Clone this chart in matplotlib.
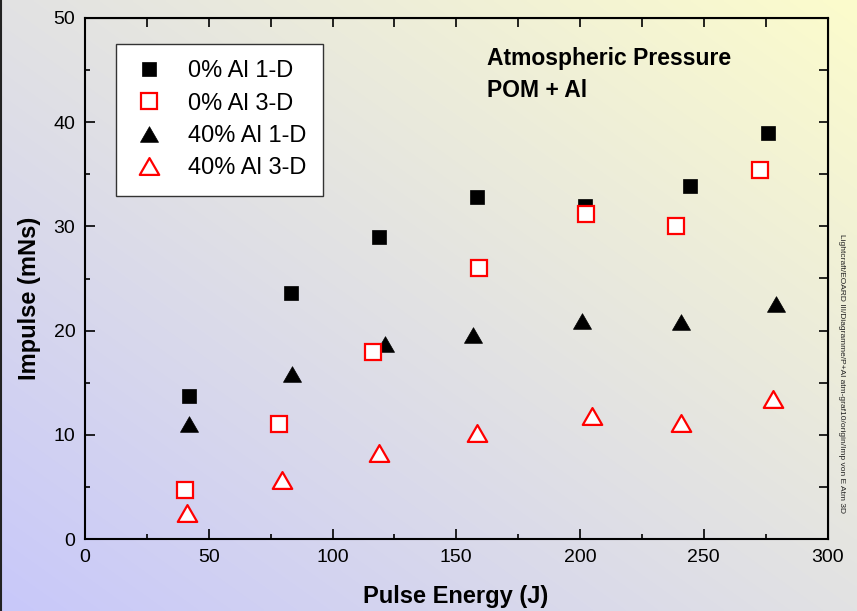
import numpy as np
import matplotlib
matplotlib.use("Agg")
import matplotlib.pyplot as plt
from matplotlib.path import Path
from matplotlib.ticker import MultipleLocator, NullFormatter

plt.rcParams['font.family'] = ['Liberation Sans', 'DejaVu Sans']

# ---- data ----
e_0_1d = [41.9, 83.4, 118.9, 158.3, 202.0, 244.5, 275.9]
i_0_1d = [13.7, 23.6, 29.0, 32.8, 32.0, 33.9, 39.0]

e_0_3d = [40.3, 78.4, 116.5, 159.3, 202.6, 238.7, 272.8]
i_0_3d = [4.7, 11.0, 17.9, 26.0, 31.2, 30.0, 35.4]

e_40_1d = [42.2, 83.8, 121.2, 156.9, 200.9, 240.9, 279.1]
i_40_1d = [11.0, 15.8, 18.7, 19.6, 20.9, 20.8, 22.6]

e_40_3d = [41.1, 79.6, 118.8, 158.5, 204.7, 240.9, 277.9]
i_40_3d = [2.5, 5.7, 8.3, 10.2, 11.8, 11.1, 13.4]

labels = ["0% Al 1-D", "0% Al 3-D", "40% Al 1-D", "40% Al 3-D"]

W, H = 857, 611
fig = plt.figure(figsize=(W / 100, H / 100), dpi=100)

# background gradient (bottom-left lavender -> top-right pale yellow)
bg = fig.add_axes([0, 0, 1, 1], zorder=-10)
nx, ny = 300, 220
xx, yy = np.meshgrid(np.linspace(0, 1, nx), np.linspace(0, 1, ny))
t = (xx + yy) / 2.0
c0 = np.array([200, 200, 250]) / 255.0
c1 = np.array([252, 252, 204]) / 255.0
img = c0[None, None, :] * (1 - t[..., None]) + c1[None, None, :] * t[..., None]
bg.imshow(img, origin='lower', extent=[0, 1, 0, 1], aspect='auto', interpolation='bilinear')
bg.set_xlim(0, 1)
bg.set_ylim(0, 1)
bg.axis('off')
bg.plot([0.001, 0.001], [0, 1], color='#222222', lw=1.5, transform=bg.transAxes, clip_on=False)

# main axes
x0, x1 = 85, 827.5
y0, y1 = 539, 18
ax = fig.add_axes([x0 / W, 1 - y0 / H, (x1 - x0) / W, (y0 - y1) / H])
ax.set_facecolor('none')

tri = Path([(-1, -0.866), (1, -0.866), (0, 0.866), (-1, -0.866)],
           [Path.MOVETO, Path.LINETO, Path.LINETO, Path.CLOSEPOLY])

ax.plot(e_0_1d, i_0_1d, ls='none', marker='s', ms=10.5, mfc='black', mec='black', mew=0.5,
        label=labels[0], zorder=3)
ax.plot(e_0_3d, i_0_3d, ls='none', marker='s', ms=11.5, mfc='white', mec='red', mew=1.6,
        label=labels[1], zorder=4)
ax.plot(e_40_1d, i_40_1d, ls='none', marker=tri, ms=13, mfc='black', mec='black', mew=0.5,
        label=labels[2], zorder=3)
ax.plot(e_40_3d, i_40_3d, ls='none', marker=tri, ms=14, mfc='white', mec='red', mew=1.6,
        label=labels[3], zorder=4)

ax.set_xlim(0, 300)
ax.set_ylim(0, 50)
ax.xaxis.set_major_locator(MultipleLocator(50))
ax.xaxis.set_minor_locator(MultipleLocator(25))
ax.yaxis.set_major_locator(MultipleLocator(10))
ax.yaxis.set_minor_locator(MultipleLocator(5))
ax.tick_params(which='major', direction='in', length=7.2, width=1.2, labelsize=14, pad=7,
               colors='black')
ax.tick_params(which='minor', direction='in', length=3.6, width=1.2)
for s in ax.spines.values():
    s.set_linewidth(1.5)

# top & right ticks (all same length)
axt = ax.secondary_xaxis('top')
axt.xaxis.set_major_locator(MultipleLocator(25))
axt.xaxis.set_major_formatter(NullFormatter())
axt.tick_params(direction='in', length=6.5, width=1.2)
axr = ax.secondary_yaxis('right')
axr.yaxis.set_major_locator(MultipleLocator(5))
axr.yaxis.set_major_formatter(NullFormatter())
axr.tick_params(direction='in', length=6.5, width=1.2)

leg = ax.legend(loc='upper left', bbox_to_anchor=((116 - x0) / (x1 - x0), (y0 - 44) / (y0 - y1)),
                borderaxespad=0, fontsize=17, frameon=True, fancybox=False,
                edgecolor='#333333', framealpha=1, facecolor='white',
                borderpad=0.69, labelspacing=0.44, handlelength=1.44, handletextpad=0.93,
                numpoints=1)
leg.get_frame().set_linewidth(1.0)

# axis labels
fig.text(456 / W, 1 - 603 / H, "Pulse Energy (J)", ha='center', va='baseline',
         fontsize=17, fontweight='bold')
fig.text(30 / W, 1 - 298 / H, "Impulse (mNs)", ha='center', va='center', rotation=90,
         fontsize=17, fontweight='bold')

# annotation
fig.text(487 / W, 1 - 65 / H, "Atmospheric Pressure", ha='left', va='baseline',
         fontsize=16.5, fontweight='bold')
fig.text(487 / W, 1 - 96.7 / H, "POM + Al", ha='left', va='baseline',
         fontsize=16.5, fontweight='bold')

# side path note
fig.text(841.7 / W, 1 - 373 / H,
         "Lightcraft/EOARD III/Diagramme/P+Al atm-graf10/origin/Imp von E Atm 3D",
         ha='center', va='center', rotation=270, fontsize=6, color='#222222')

fig.savefig("out.png", dpi=100)
